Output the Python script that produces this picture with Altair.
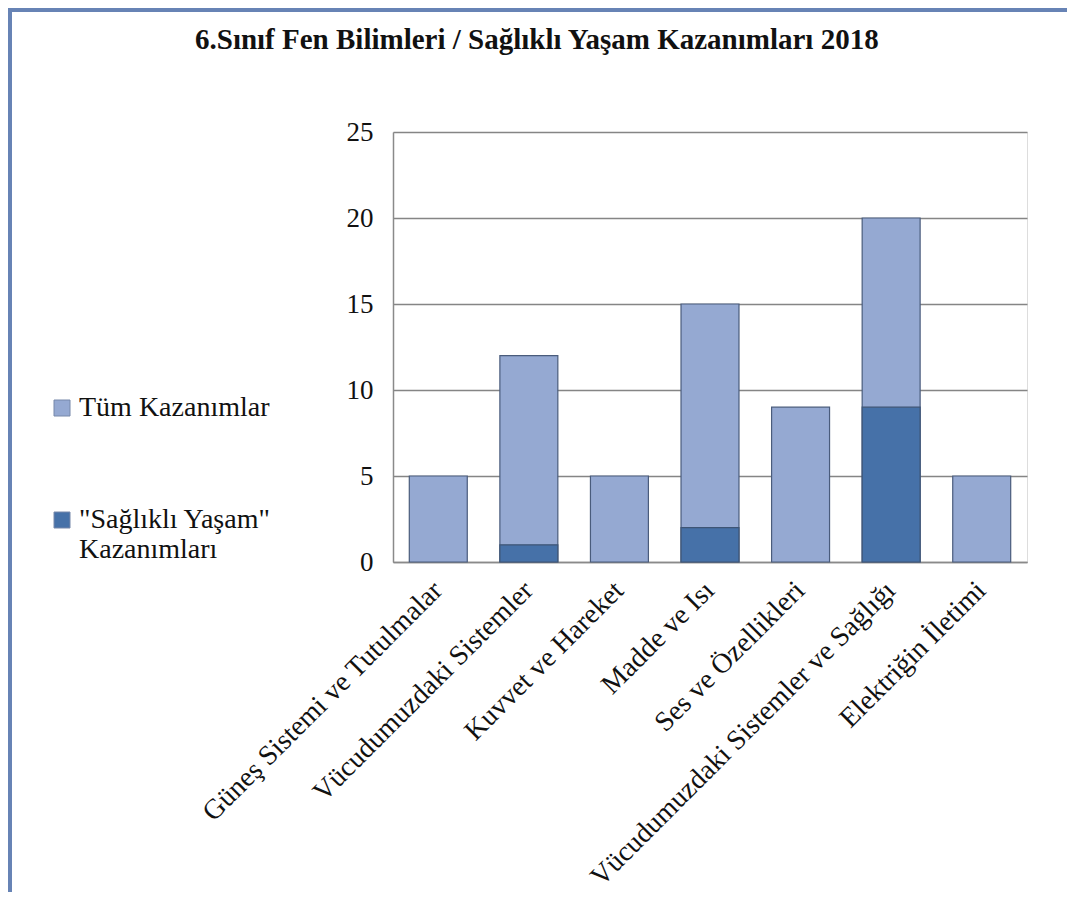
import altair as alt
import pandas as pd

# ---- data ----
categories = [
    "Güneş Sistemi ve Tutulmalar",
    "Vücudumuzdaki Sistemler",
    "Kuvvet ve Hareket",
    "Madde ve Isı",
    "Ses ve Özellikleri",
    "Vücudumuzdaki Sistemler ve Sağlığı",
    "Elektriğin İletimi",
]
all_outcomes = [5, 12, 5, 15, 9, 20, 5]
healthy_outcomes = [0, 1, 0, 2, 0, 9, 0]
series_names = ["Tüm Kazanımlar", "\"Sağlıklı Yaşam\" Kazanımları"]
series_colors = ["#95a9d2", "#4671a8"]
y_ticks = [0, 5, 10, 15, 20, 25]
title_text = "6.Sınıf Fen Bilimleri / Sağlıklı Yaşam Kazanımları 2018"

rows = []
for c, a, h in zip(categories, all_outcomes, healthy_outcomes):
    rows.append({"kategori": c, "seri": series_names[0], "deger": a})
    rows.append({"kategori": c, "seri": series_names[1], "deger": h})
df = pd.DataFrame(rows)

FONT = "Liberation Serif"
W, H = 634, 430

label_expr = ("indexof(datum.label, 'Sağlıklı') >= 0 ? "
              "['\"Sağlıklı Yaşam\"', 'Kazanımları'] : datum.label")

x_enc = alt.X(
    "kategori:N",
    sort=categories,
    scale=alt.Scale(paddingInner=0.36, paddingOuter=0.18),
    axis=alt.Axis(
        title=None,
        labelAngle=-45,
        labelAlign="right",
        labelBaseline="middle",
        labelPadding=24,
        labelFont=FONT,
        labelFontSize=28,
        labelColor="#111111",
        labelLimit=600,
        ticks=False,
        domainColor="#8a8a8a",
        domainWidth=1.5,
    ),
)
y_enc = alt.Y(
    "deger:Q",
    stack=None,
    scale=alt.Scale(domain=[0, 25], nice=False),
    axis=alt.Axis(
        title=None,
        values=y_ticks,
        grid=True,
        gridColor="#858585",
        gridWidth=1.3,
        ticks=False,
        labelPadding=20,
        labelFont=FONT,
        labelFontSize=27,
        labelColor="#111111",
        domainColor="#8a8a8a",
        domainWidth=1.5,
    ),
)
color_enc = alt.Color(
    "seri:N",
    scale=alt.Scale(domain=series_names, range=series_colors),
    legend=alt.Legend(
        title=None,
        orient="none",
        legendX=-345,
        legendY=262,
        symbolType="square",
        symbolSize=256,
        symbolStrokeColor="#7788aa",
        symbolStrokeWidth=1,
        symbolOpacity=1,
        labelFont=FONT,
        labelFontSize=28,
        labelFontWeight="normal",
        labelColor="#111111",
        labelOffset=3,
        labelLimit=400,
        labelExpr=label_expr,
        rowPadding=84,
    ),
)

base = alt.Chart(df).encode(x=x_enc, y=y_enc, color=color_enc)

bars_all = base.transform_filter(
    alt.datum.seri == series_names[0]
).mark_bar(stroke="#4a5c7c", strokeWidth=1.2, opacity=1)

bars_healthy = base.transform_filter(
    (alt.datum.seri == series_names[1]) & (alt.datum.deger > 0)
).mark_bar(stroke="#3e5575", strokeWidth=1.2, opacity=1)

frame_df = pd.DataFrame({"k": [0]})
frame_left = alt.Chart(frame_df).mark_rule(color="#6783b5", strokeWidth=4).encode(
    x=alt.value(-383), y=alt.value(-124), y2=alt.value(H + 330)
)
frame_top = alt.Chart(frame_df).mark_rule(color="#6783b5", strokeWidth=4).encode(
    x=alt.value(-385), x2=alt.value(W + 40), y=alt.value(-122)
)

chart = (
    alt.layer(bars_all, bars_healthy, frame_left, frame_top)
    .properties(
        width=W,
        height=H,
        autosize=alt.AutoSizeParams(type="none"),
        padding={"left": 385, "top": 124, "right": 40, "bottom": 330},
        title=alt.TitleParams(
            text=title_text,
            anchor="start",
            frame="group",
            dx=-198,
            dy=72,
            offset=0,
            baseline="alphabetic",
            font=FONT,
            fontSize=29,
            fontWeight="bold",
            color="#111111",
        ),
    )
    .configure_view(fill="#e8ecf4", strokeWidth=0)
    .configure_legend(labelFont=FONT, labelFontSize=28)
    .configure_title(font=FONT)
    .configure(background="white", font=FONT)
)

chart.save("out.html", embed_options={"renderer": "svg", "actions": False})
